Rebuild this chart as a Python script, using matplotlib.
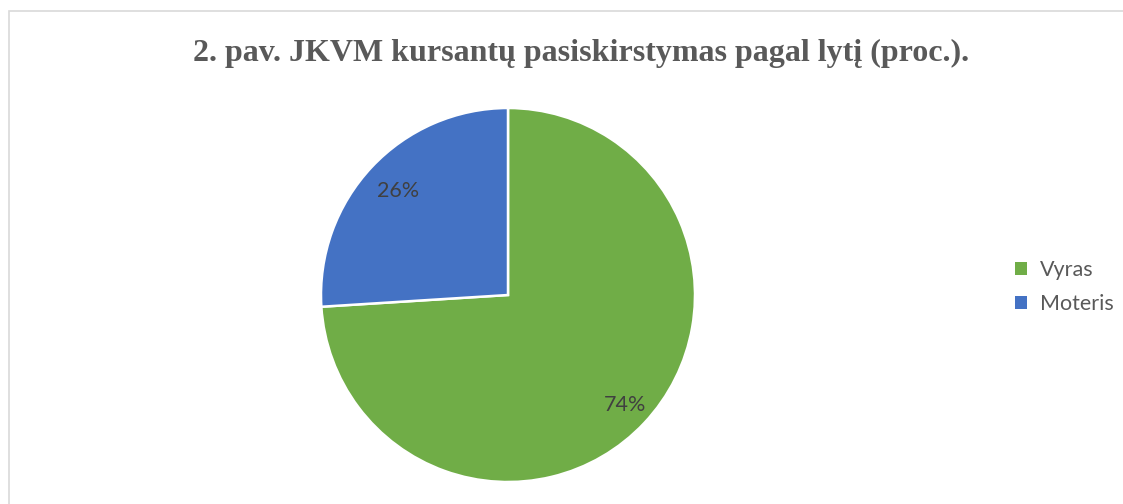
import matplotlib.pyplot as plt
from matplotlib.patches import Patch, Rectangle

# --- duomenys ---
labels = ["Vyras", "Moteris"]
shares = [74, 26]
colors = ["#70AD47", "#4472C4"]
title = "2. pav. JKVM kursantų pasiskirstymas pagal lytį (proc.)."

W, H = 1123, 504
fig = plt.figure(figsize=(W / 100, H / 100), dpi=100)

# rėmelis aplink diagramą (dešinė ir apačia nukirpti)
fig.add_artist(Rectangle((9 / W, -0.1), 1.2, 1 - 11 / H + 0.1,
                         transform=fig.transFigure, fill=False,
                         edgecolor="#d9d9d9", linewidth=1.2))

# pyrago ašys: centras (508, 295), spindulys 187 px
cx, cy, r = 508, 295, 187
ax = fig.add_axes([(cx - r) / W, (H - cy - r) / H, 2 * r / W, 2 * r / H])
wedges, texts, autotexts = ax.pie(
    shares, colors=colors, startangle=90, counterclock=False,
    autopct="%1.0f%%", pctdistance=0.82,
    wedgeprops=dict(edgecolor="white", linewidth=1.8),
    textprops=dict(fontsize=15.5, color="#404040", family="Lato"),
)
# Excel deda etiketes šiek tiek skirtingu atstumu
for t, d in zip(autotexts, [0.86, 0.81]):
    x, y = t.get_position()
    t.set_position((x * d / 0.82, y * d / 0.82))

ax.set_xlim(-1, 1)
ax.set_ylim(-1, 1)
ax.set_aspect("equal")
ax.axis("off")

fig.text(581 / W, 1 - 53 / H, title, ha="center", va="center",
         fontsize=23, fontweight="bold", color="#595959",
         family="Liberation Serif")

handles = [Patch(facecolor=c, edgecolor="none", label=l) for c, l in zip(colors, labels)]
fig.legend(handles=handles, loc="center left",
           bbox_to_anchor=(996 / W, 1 - 287 / H), frameon=False,
           handlelength=0.55, handleheight=0.55, handletextpad=0.6,
           labelspacing=0.65, prop=dict(family="Lato", size=15.5),
           labelcolor="#595959")

fig.savefig("out.png", dpi=100, facecolor="white")
